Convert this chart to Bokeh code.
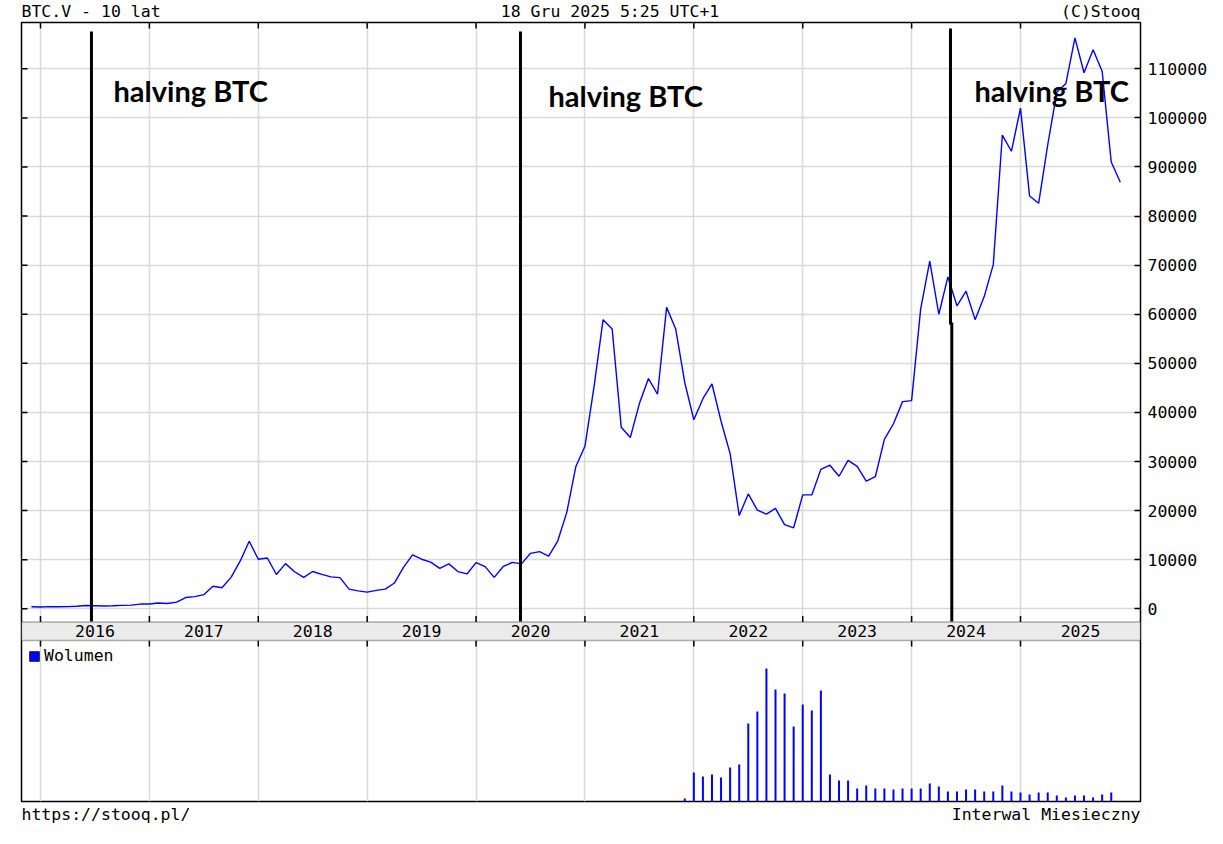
from bokeh.plotting import figure
from bokeh.layouts import column
from bokeh.models import (Range1d, FixedTicker, PrintfTickFormatter, Label,
                          BoxAnnotation, Legend, LegendItem)
from bokeh.core.properties import value
from bokeh.embed import file_html
from bokeh.resources import INLINE

# ---------------- data ----------------
# monthly close, BTC/USD, from Dec 2015 to Dec 2025
price_start = (2015, 12)
price = [
    430,
    368, 437, 416, 448, 531, 673, 624, 575, 609, 698, 742, 963,                       # 2016
    970, 1190, 1080, 1350, 2300, 2480, 2875, 4600, 4300, 6400, 9700, 13750,           # 2017
    10100, 10350, 6980, 9200, 7550, 6390, 7600, 7000, 6500, 6350, 4000, 3650,         # 2018
    3400, 3750, 4000, 5250, 8450, 11000, 10100, 9500, 8250, 9150, 7580, 7100,         # 2019
    9400, 8600, 6400, 8620, 9450, 9150, 11300, 11650, 10750, 13800, 19650, 29000,     # 2020
    33100, 45200, 58900, 57000, 37000, 34900, 41800, 46900, 43700, 61400, 57000, 46100,  # 2021
    38500, 42800, 45800, 38200, 31600, 19000, 23400, 20100, 19300, 20450, 17150, 16500,  # 2022
    23200, 23200, 28400, 29250, 27000, 30250, 29000, 26000, 26900, 34500, 37700, 42200,  # 2023
    42400, 61100, 70800, 60000, 67600, 61700, 64700, 58900, 63600, 70100, 96500, 93200,  # 2024
    102000, 84100, 82600, 94500, 105200, 107000, 116300, 109200, 113900, 109500, 91000, 86900,  # 2025
]
# monthly volume (arbitrary units), Dec 2021 to Nov 2025
volume_start = (2021, 12)
volume = [
    3,
    29, 25, 27, 24, 34, 37, 78, 90, 133, 112, 108, 75,     # 2022
    97, 91, 111, 27, 21, 21, 13, 16, 13, 13, 12, 13,       # 2023
    13, 13, 18, 15, 10, 10, 12, 12, 10, 10, 16, 10,        # 2024
    9, 7, 9, 9, 6, 4, 6, 6, 4, 7, 9,                       # 2025
]
year_ticks = [2016, 2017, 2018, 2019, 2020, 2021, 2022, 2023, 2024, 2025]
year_labels = [str(y) for y in year_ticks]
price_ticks = [0, 10000, 20000, 30000, 40000, 50000, 60000, 70000, 80000, 90000, 100000, 110000]
halving_dates = [2016.468, 2020.408, 2024.357]
header_texts = ["BTC.V - 10 lat", "18 Gru 2025 5:25 UTC+1", "(C)Stooq"]
footer_texts = ["https://stooq.pl/", "Interwal Miesieczny"]


def month_series(start, n):
    y, m = start
    out = []
    for _ in range(n):
        out.append(y + (m - 1) / 12)
        m += 1
        if m > 12:
            m, y = 1, y + 1
    return out


price_x = month_series(price_start, len(price))
volume_x = month_series(volume_start, len(volume))

# ---------------- geometry (page px -> data) ----------------
W = 1220
FRAME_W = 1119
PX_PER_YEAR = 980 / 9.0
PX_PER_UNIT = 540 / 110000.0
ZERO_PX = 608.3


def px_x(px):
    return 2016 + (px - 40) / PX_PER_YEAR


def px_y(py):
    return (ZERO_PX - py) / PX_PER_UNIT


X0, X1 = px_x(21), px_x(1140)
Y1, Y0 = px_y(22), px_y(801)

MONO = "DejaVu Sans Mono"
FS = "16.5px"


def text_strip(height, y_top):
    f = figure(frame_width=FRAME_W, frame_height=height, title=None,
               min_border_left=21, min_border_right=W - 21 - FRAME_W,
               min_border_top=0, min_border_bottom=0,
               x_range=Range1d(X0, X1), y_range=Range1d(y_top + height, y_top),
               x_axis_location=None, y_axis_location=None,
               output_backend="svg", toolbar_location=None)
    f.grid.visible = False
    f.outline_line_color = None
    f.background_fill_color = "white"
    f.border_fill_color = "white"
    return f


# ---------------- header ----------------
head = text_strip(21, 0)
for tx, txt, al in zip([21, 609.5, 1140], header_texts, ["left", "center", "right"]):
    head.text(x=[px_x(tx)], y=[11], text=[txt], text_font=value(MONO), text_font_size=FS,
              text_align=al, text_baseline="middle", text_color="black")

# ---------------- main chart ----------------
p = figure(frame_width=FRAME_W, frame_height=779,
           min_border_left=21, min_border_right=W - 21 - FRAME_W, min_border_top=1, min_border_bottom=3,
           x_range=Range1d(X0, X1), y_range=Range1d(Y0, Y1),
           x_axis_location=None, y_axis_location="right",
           output_backend="svg", toolbar_location=None)
p.background_fill_color = "white"
p.border_fill_color = "white"
p.outline_line_color = "black"
p.outline_line_width = 1.5

p.extra_y_ranges = {"vol": Range1d(0, 779)}

# grids
p.xgrid.ticker = FixedTicker(ticks=year_ticks)
p.ygrid.ticker = FixedTicker(ticks=price_ticks)
p.xgrid.grid_line_color = "#d9d9d9"
p.ygrid.grid_line_color = "#d9d9d9"
p.xgrid.grid_line_width = 1.5
p.ygrid.grid_line_width = 1.5

# right axis: price labels
ry = p.yaxis[0]
ry.ticker = FixedTicker(ticks=price_ticks)
ry.formatter = PrintfTickFormatter(format="%d")
ry.major_tick_in = 6
ry.major_tick_out = 0
ry.minor_tick_line_color = None
ry.axis_line_color = None
ry.major_label_standoff = 7
ry.major_label_text_font = MONO
ry.major_label_text_font_size = FS
ry.major_label_text_color = "black"
ry.major_tick_line_width = 1.5

tick_h = 6 / PX_PER_UNIT
tick_w = 6 / PX_PER_YEAR
n_y = len(year_ticks)
# ticks at frame top and on left edge
p.segment(x0=year_ticks, x1=year_ticks, y0=[Y1] * n_y, y1=[Y1 - tick_h] * n_y,
          line_color="black", line_width=1.5)
p.segment(x0=[X0] * len(price_ticks), x1=[X0 + tick_w] * len(price_ticks),
          y0=price_ticks, y1=price_ticks, line_color="black", line_width=1.5)

# volume bars
vol_r = p.vbar(x=volume_x, top=volume, bottom=0, width=2 / PX_PER_YEAR,
               y_range_name="vol", fill_color="#0000ff", line_color=None)
# legend proxy (hidden renderer, same data)
vol_proxy = p.vbar(x=volume_x, top=volume, bottom=0, width=2 / PX_PER_YEAR,
                   y_range_name="vol", fill_color="#0000ff", line_color="#1a1a1a",
                   line_width=1, visible=False)

# price line
p.line(price_x, price, line_color="#0000ff", line_width=1.4)

# gray band with year labels
band_top, band_bot = px_y(621.5), px_y(640)
p.add_layout(BoxAnnotation(top=band_top, bottom=band_bot, fill_color="#ebebeb", fill_alpha=1,
                           line_color="black", line_width=1.5, level="annotation"))
p.segment(x0=year_ticks, x1=year_ticks, y0=[band_top] * n_y, y1=[band_top + tick_h] * n_y,
          line_color="black", line_width=1.5)
p.segment(x0=year_ticks, x1=year_ticks, y0=[band_bot] * n_y, y1=[band_bot - tick_h] * n_y,
          line_color="black", line_width=1.5)
label_x = [y + 0.5 for y in year_ticks[:-1]] + [(year_ticks[-1] + X1) / 2]
for lx, txt in zip(label_x, year_labels):
    p.add_layout(Label(x=lx, y=(band_top + band_bot) / 2, text=txt, text_font=MONO,
                       text_font_size=FS, text_align="center", text_baseline="middle",
                       text_color="black", level="annotation"))

# halving lines
top_y, bot_y = px_y(31), px_y(621)
p.segment(x0=halving_dates[:2], x1=halving_dates[:2], y0=[top_y] * 2, y1=[bot_y] * 2,
          line_color="black", line_width=3)
p.segment(x0=[halving_dates[2]], x1=[halving_dates[2]], y0=[px_y(28)], y1=[px_y(324)],
          line_color="black", line_width=3)
p.segment(x0=[halving_dates[2] + 0.012], x1=[halving_dates[2] + 0.012], y0=[px_y(322)],
          y1=[bot_y], line_color="black", line_width=3)

for hx, hy in [(113, 90), (548, 94.5), (974, 90)]:
    p.add_layout(Label(x=px_x(hx), y=px_y(hy), text="halving BTC", text_font="Lato",
                       text_font_style="bold", text_font_size="29px", text_color="black",
                       text_align="left", text_baseline="middle"))

# legend
legend = Legend(items=[LegendItem(label="Wolumen", renderers=[vol_proxy])],
                location=(7, 801 - 649 - 19 + 3), glyph_width=12, glyph_height=12,
                label_standoff=4, padding=0, margin=0, spacing=0,
                border_line_color=None, background_fill_alpha=0,
                label_text_font=MONO, label_text_font_size=FS, label_height=12,
                label_text_color="black")
p.add_layout(legend)

# ---------------- footer ----------------
foot = text_strip(36, 804)
for tx, txt, al in zip([21, 1140], footer_texts, ["left", "right"]):
    foot.text(x=[px_x(tx)], y=[814], text=[txt], text_font=value(MONO), text_font_size=FS,
              text_align=al, text_baseline="middle", text_color="black")

layout = column(head, p, foot, spacing=0)
open("out.html", "w").write(file_html(layout, INLINE))
